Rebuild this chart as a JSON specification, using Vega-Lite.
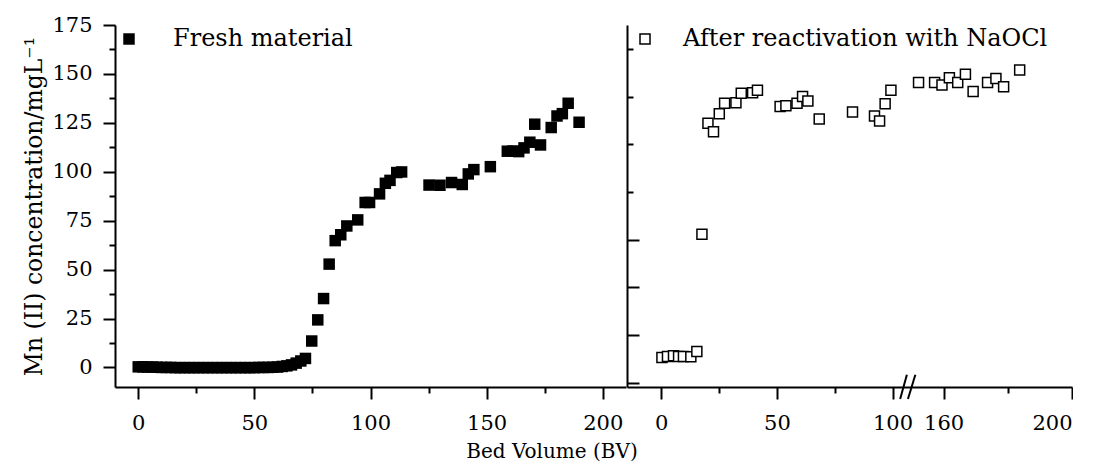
{
  "$schema": "https://vega.github.io/schema/vega-lite/v6.json",
  "background": "white",
  "padding": {"left": 22, "top": 14, "right": 0, "bottom": 0},
  "title": {
    "text": "Bed Volume (BV)", "orient": "bottom", "anchor": "middle",
    "font": "DejaVu Serif", "fontSize": 20, "fontWeight": "normal", "color": "black",
    "offset": 9, "dx": 4
  },
  "config": {
    "view": {"stroke": null},
    "font": "DejaVu Serif",
    "axis": {
      "domainColor": "black", "domainWidth": 2, "tickColor": "black", "tickWidth": 2,
      "labelFont": "DejaVu Serif", "labelFontSize": 21, "labelColor": "black",
      "titleFont": "DejaVu Serif", "titleFontWeight": "normal", "titleColor": "black",
      "grid": false
    },
    "legend": {
      "orient": "top-left", "title": null, "padding": 0,
      "labelFont": "DejaVu Serif", "labelFontSize": 24, "labelColor": "black", "labelLimit": 600
    }
  },
  "datasets": {
    "fresh": [
      {"bv": 0, "mn": 0.3, "series": "Fresh material"},
      {"bv": 2, "mn": 0.3, "series": "Fresh material"},
      {"bv": 4, "mn": 0.2, "series": "Fresh material"},
      {"bv": 6, "mn": 0.2, "series": "Fresh material"},
      {"bv": 8, "mn": 0.1, "series": "Fresh material"},
      {"bv": 10, "mn": 0.0, "series": "Fresh material"},
      {"bv": 12, "mn": 0.0, "series": "Fresh material"},
      {"bv": 14, "mn": 0.0, "series": "Fresh material"},
      {"bv": 16, "mn": -0.1, "series": "Fresh material"},
      {"bv": 18, "mn": -0.1, "series": "Fresh material"},
      {"bv": 20, "mn": -0.1, "series": "Fresh material"},
      {"bv": 22, "mn": -0.1, "series": "Fresh material"},
      {"bv": 24, "mn": -0.1, "series": "Fresh material"},
      {"bv": 26, "mn": -0.1, "series": "Fresh material"},
      {"bv": 28, "mn": -0.1, "series": "Fresh material"},
      {"bv": 30, "mn": -0.1, "series": "Fresh material"},
      {"bv": 32, "mn": -0.1, "series": "Fresh material"},
      {"bv": 34, "mn": -0.1, "series": "Fresh material"},
      {"bv": 36, "mn": -0.1, "series": "Fresh material"},
      {"bv": 38, "mn": -0.1, "series": "Fresh material"},
      {"bv": 40, "mn": -0.1, "series": "Fresh material"},
      {"bv": 42, "mn": -0.1, "series": "Fresh material"},
      {"bv": 44, "mn": -0.1, "series": "Fresh material"},
      {"bv": 46, "mn": -0.1, "series": "Fresh material"},
      {"bv": 48, "mn": -0.1, "series": "Fresh material"},
      {"bv": 50, "mn": -0.1, "series": "Fresh material"},
      {"bv": 52, "mn": 0.0, "series": "Fresh material"},
      {"bv": 54, "mn": 0.0, "series": "Fresh material"},
      {"bv": 56, "mn": 0.0, "series": "Fresh material"},
      {"bv": 58, "mn": 0.1, "series": "Fresh material"},
      {"bv": 60, "mn": 0.2, "series": "Fresh material"},
      {"bv": 62, "mn": 0.5, "series": "Fresh material"},
      {"bv": 64, "mn": 0.8, "series": "Fresh material"},
      {"bv": 66, "mn": 1.3, "series": "Fresh material"},
      {"bv": 68, "mn": 2.2, "series": "Fresh material"},
      {"bv": 70, "mn": 3.3, "series": "Fresh material"},
      {"bv": 72, "mn": 4.6, "series": "Fresh material"},
      {"bv": 74.7, "mn": 13.5, "series": "Fresh material"},
      {"bv": 77.3, "mn": 24.3, "series": "Fresh material"},
      {"bv": 79.8, "mn": 35.2, "series": "Fresh material"},
      {"bv": 82.2, "mn": 52.8, "series": "Fresh material"},
      {"bv": 84.8, "mn": 64.8, "series": "Fresh material"},
      {"bv": 87.2, "mn": 67.8, "series": "Fresh material"},
      {"bv": 89.8, "mn": 72.3, "series": "Fresh material"},
      {"bv": 94.5, "mn": 75.4, "series": "Fresh material"},
      {"bv": 97.7, "mn": 84.3, "series": "Fresh material"},
      {"bv": 99.6, "mn": 84.3, "series": "Fresh material"},
      {"bv": 103.9, "mn": 88.7, "series": "Fresh material"},
      {"bv": 106.4, "mn": 94.1, "series": "Fresh material"},
      {"bv": 108.4, "mn": 95.6, "series": "Fresh material"},
      {"bv": 111.3, "mn": 99.6, "series": "Fresh material"},
      {"bv": 113.4, "mn": 99.9, "series": "Fresh material"},
      {"bv": 125.2, "mn": 93.2, "series": "Fresh material"},
      {"bv": 129.9, "mn": 93.1, "series": "Fresh material"},
      {"bv": 134.9, "mn": 94.5, "series": "Fresh material"},
      {"bv": 139.5, "mn": 93.5, "series": "Fresh material"},
      {"bv": 142.1, "mn": 98.9, "series": "Fresh material"},
      {"bv": 144.5, "mn": 101.1, "series": "Fresh material"},
      {"bv": 151.6, "mn": 102.6, "series": "Fresh material"},
      {"bv": 158.9, "mn": 110.5, "series": "Fresh material"},
      {"bv": 161.4, "mn": 110.6, "series": "Fresh material"},
      {"bv": 163.8, "mn": 110.3, "series": "Fresh material"},
      {"bv": 166.1, "mn": 112.2, "series": "Fresh material"},
      {"bv": 168.6, "mn": 115.1, "series": "Fresh material"},
      {"bv": 170.7, "mn": 124.3, "series": "Fresh material"},
      {"bv": 173.2, "mn": 113.7, "series": "Fresh material"},
      {"bv": 177.8, "mn": 122.6, "series": "Fresh material"},
      {"bv": 180.3, "mn": 128.5, "series": "Fresh material"},
      {"bv": 182.6, "mn": 129.7, "series": "Fresh material"},
      {"bv": 185.1, "mn": 135.0, "series": "Fresh material"},
      {"bv": 189.8, "mn": 125.3, "series": "Fresh material"}
    ],
    "react": [
      {"bv": 0.3, "mn": 5.1, "series": "After reactivation with NaOCl"},
      {"bv": 2.7, "mn": 5.6, "series": "After reactivation with NaOCl"},
      {"bv": 5.3, "mn": 6.0, "series": "After reactivation with NaOCl"},
      {"bv": 7.5, "mn": 5.6, "series": "After reactivation with NaOCl"},
      {"bv": 9.6, "mn": 5.6, "series": "After reactivation with NaOCl"},
      {"bv": 12.8, "mn": 5.5, "series": "After reactivation with NaOCl"},
      {"bv": 15.4, "mn": 8.2, "series": "After reactivation with NaOCl"},
      {"bv": 17.6, "mn": 68.1, "series": "After reactivation with NaOCl"},
      {"bv": 20.2, "mn": 124.8, "series": "After reactivation with NaOCl"},
      {"bv": 22.6, "mn": 120.5, "series": "After reactivation with NaOCl"},
      {"bv": 25.1, "mn": 129.7, "series": "After reactivation with NaOCl"},
      {"bv": 27.4, "mn": 135.0, "series": "After reactivation with NaOCl"},
      {"bv": 32.3, "mn": 135.3, "series": "After reactivation with NaOCl"},
      {"bv": 34.6, "mn": 140.1, "series": "After reactivation with NaOCl"},
      {"bv": 39.5, "mn": 140.4, "series": "After reactivation with NaOCl"},
      {"bv": 41.6, "mn": 141.7, "series": "After reactivation with NaOCl"},
      {"bv": 51.4, "mn": 133.3, "series": "After reactivation with NaOCl"},
      {"bv": 53.9, "mn": 133.7, "series": "After reactivation with NaOCl"},
      {"bv": 58.7, "mn": 135.0, "series": "After reactivation with NaOCl"},
      {"bv": 61.1, "mn": 138.4, "series": "After reactivation with NaOCl"},
      {"bv": 63.4, "mn": 136.2, "series": "After reactivation with NaOCl"},
      {"bv": 68.3, "mn": 126.9, "series": "After reactivation with NaOCl"},
      {"bv": 82.7, "mn": 130.6, "series": "After reactivation with NaOCl"},
      {"bv": 92.2, "mn": 128.5, "series": "After reactivation with NaOCl"},
      {"bv": 94.4, "mn": 126.0, "series": "After reactivation with NaOCl"},
      {"bv": 96.8, "mn": 134.8, "series": "After reactivation with NaOCl"},
      {"bv": 99.3, "mn": 141.7, "series": "After reactivation with NaOCl"},
      {"bv": 152.2, "mn": 145.6, "series": "After reactivation with NaOCl"},
      {"bv": 157.2, "mn": 145.6, "series": "After reactivation with NaOCl"},
      {"bv": 159.5, "mn": 144.4, "series": "After reactivation with NaOCl"},
      {"bv": 161.8, "mn": 148.1, "series": "After reactivation with NaOCl"},
      {"bv": 164.4, "mn": 145.6, "series": "After reactivation with NaOCl"},
      {"bv": 166.8, "mn": 149.8, "series": "After reactivation with NaOCl"},
      {"bv": 169.2, "mn": 141.0, "series": "After reactivation with NaOCl"},
      {"bv": 173.7, "mn": 145.6, "series": "After reactivation with NaOCl"},
      {"bv": 176.3, "mn": 147.6, "series": "After reactivation with NaOCl"},
      {"bv": 178.7, "mn": 143.4, "series": "After reactivation with NaOCl"},
      {"bv": 183.7, "mn": 152.0, "series": "After reactivation with NaOCl"}
    ],
    "breaks": [
      {"bx": 103.3, "bx2": 106.2, "by": -16.1, "by2": -3.7},
      {"bx": 148.9, "bx2": 151.2, "by": -16.1, "by2": -3.7}
    ]
  },
  "spacing": 0,
  "resolve": {
    "scale": {"x": "independent", "y": "independent", "shape": "independent", "color": "independent"},
    "legend": {"shape": "independent", "color": "independent"}
  },
  "hconcat": [
    {
      "width": 511,
      "height": 362,
      "data": {"name": "fresh"},
      "mark": {"type": "point", "filled": true, "size": 132, "color": "black", "opacity": 1},
      "encoding": {
        "x": {
          "field": "bv", "type": "quantitative",
          "scale": {"domain": [-10, 210], "nice": false, "zero": false},
          "axis": {
            "values": [0, 25, 50, 75, 100, 125, 150, 175, 200],
            "labelExpr": "datum.value % 50 === 0 ? datum.label : ''",
            "tickSize": {"condition": {"test": "datum.value % 50 === 0", "value": 12}, "value": 6},
            "labelPadding": 13,
            "title": null
          }
        },
        "y": {
          "field": "mn", "type": "quantitative",
          "scale": {"domain": [-10, 175], "nice": false, "zero": false},
          "axis": {
            "values": [0, 12.5, 25, 37.5, 50, 62.5, 75, 87.5, 100, 112.5, 125, 137.5, 150, 162.5, 175],
            "labelExpr": "datum.value % 25 === 0 ? datum.label : ''",
            "tickSize": {"condition": {"test": "datum.value % 25 === 0", "value": 12}, "value": 6},
            "labelPadding": 11,
            "title": "Mn (II) concentration/mgL⁻¹", "titleFontSize": 23.5, "titlePadding": 5
          }
        },
        "shape": {
          "field": "series", "type": "nominal",
          "scale": {"range": ["square"]},
          "legend": {
            "offset": 2, "symbolOffset": 0, "symbolSize": 132, "symbolType": "square",
            "symbolFillColor": "black", "symbolStrokeColor": "black", "labelOffset": 32
          }
        }
      }
    },
    {
      "width": 445,
      "height": 362,
      "layer": [
        {
          "data": {"name": "react"},
          "mark": {"type": "point", "shape": "square", "filled": false, "size": 100, "fill": "white", "fillOpacity": 1, "strokeWidth": 1.5, "opacity": 1},
          "encoding": {
            "x": {
              "field": "bv", "type": "quantitative",
              "scale": {"domain": [-14.8, 106.6, 148.85, 200], "range": [0, 280.8, 280.8, 445], "nice": false, "zero": false},
              "axis": {
                "values": [0, 25, 50, 75, 100, 160, 180, 200],
                "labelExpr": "indexof([0, 50, 100, 160, 200], datum.value) >= 0 ? datum.label : ''",
                "tickSize": {"condition": {"test": "indexof([0, 50, 100, 160, 200], datum.value) >= 0", "value": 12}, "value": 6},
                "labelPadding": 13,
                "title": null
              }
            },
            "y": {
              "field": "mn", "type": "quantitative",
              "scale": {"domain": [-10, 175], "nice": false, "zero": false},
              "axis": {
                "orient": "right", "offset": -445,
                "values": [175, 162.815, 150.63, 138.445, 126.26, 114.075, 101.89, 89.705, 77.52, 65.335, 53.15, 40.965, 28.78, 16.595, 4.41, -7.775],
                "labels": false,
                "tickSize": {"condition": {"test": "round(datum.index * 15) % 2 === 0", "value": 12}, "value": 6},
                "title": null
              }
            },
            "color": {
              "field": "series", "type": "nominal",
              "scale": {"range": ["black"]},
              "legend": {
                "offset": 2, "symbolOffset": 4, "symbolSize": 100, "symbolType": "square",
                "symbolFillColor": "white", "symbolStrokeColor": "black", "symbolStrokeWidth": 1.5, "labelOffset": 26
              }
            }
          }
        },
        {
          "data": {"name": "breaks"},
          "mark": {"type": "rule", "color": "black", "strokeWidth": 2},
          "encoding": {
            "x": {"field": "bx", "type": "quantitative"},
            "x2": {"field": "bx2"},
            "y": {"field": "by", "type": "quantitative"},
            "y2": {"field": "by2"}
          }
        }
      ]
    }
  ]
}
